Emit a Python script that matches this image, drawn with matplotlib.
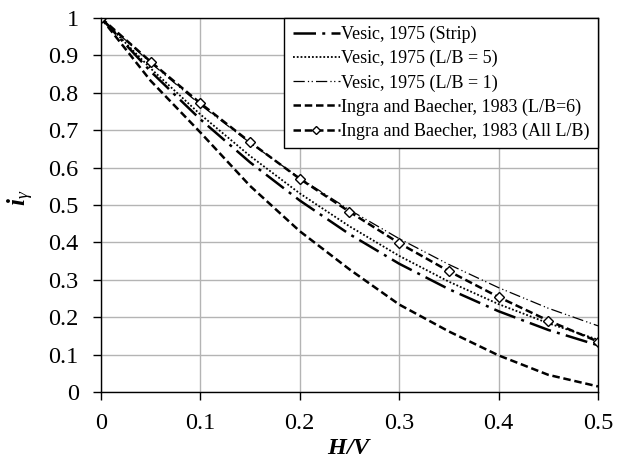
import numpy as np
import matplotlib.pyplot as plt

plt.rcParams['font.family'] = ['Liberation Serif', 'DejaVu Serif']
plt.rcParams['mathtext.fontset'] = 'custom'
plt.rcParams['mathtext.rm'] = 'Liberation Serif'
plt.rcParams['mathtext.it'] = 'Liberation Serif:italic'
plt.rcParams['mathtext.bf'] = 'Liberation Serif:bold'
plt.rcParams['mathtext.bfit'] = 'Liberation Serif:bold:italic'

# H/V values
hv = [0.0, 0.05, 0.1, 0.15, 0.2, 0.25, 0.3, 0.35, 0.4, 0.45, 0.5]

# inclination factor i_gamma
vesic_strip = [1.0, 0.857, 0.729, 0.614, 0.512, 0.422, 0.343, 0.275, 0.216, 0.166, 0.125]
vesic_lb5 = [1.0, 0.865, 0.742, 0.631, 0.531, 0.443, 0.364, 0.295, 0.235, 0.184, 0.140]
vesic_lb1 = [1.0, 0.880, 0.768, 0.666, 0.572, 0.487, 0.410, 0.341, 0.279, 0.224, 0.177]
ingra_lb6 = [1.0, 0.832, 0.694, 0.551, 0.430, 0.328, 0.234, 0.162, 0.098, 0.046, 0.015]
ingra_all = [1.0, 0.883, 0.772, 0.668, 0.570, 0.482, 0.398, 0.323, 0.254, 0.191, 0.135]

fig = plt.figure(figsize=(6.19, 4.58), dpi=100)
ax = fig.add_axes([0.163, 0.144, 0.803, 0.817])

ax.plot(hv, vesic_strip, color='black', lw=1.8, dashes=(9, 2.5, 1.2, 2.5),
        label='Vesic, 1975 (Strip)')
ax.plot(hv, vesic_lb5, color='black', lw=1.3, dashes=(1, 1.1),
        label='Vesic, 1975 (L/B = 5)')
ax.plot(hv, vesic_lb1, color='black', lw=0.9, dashes=(9, 2.5, 1, 2, 1, 2.5),
        label='Vesic, 1975 (L/B = 1)')
ax.plot(hv, ingra_lb6, color='black', lw=1.8, dashes=(3, 1.5),
        label='Ingra and Baecher, 1983 (L/B=6)')
ax.plot(hv, ingra_all, color='black', lw=1.8, dashes=(3, 1.5), marker='D',
        markersize=5, markerfacecolor='white', markeredgecolor='black',
        markeredgewidth=1, label='Ingra and Baecher, 1983 (All L/B)')

ax.set_xlim(0, 0.5)
ax.set_ylim(0, 1)
ax.set_xticks([0, 0.1, 0.2, 0.3, 0.4, 0.5])
ax.set_xticklabels(['0', '0.1', '0.2', '0.3', '0.4', '0.5'])
ax.set_yticks(np.arange(0, 1.01, 0.1))
ax.set_yticklabels(['0', '0.1', '0.2', '0.3', '0.4', '0.5', '0.6', '0.7', '0.8', '0.9', '1'])
ax.grid(True, color='#b4b4b4', lw=1)
ax.set_axisbelow(True)
ax.tick_params(axis='both', direction='out', length=6, width=1, labelsize=17.5)
ax.tick_params(axis='y', pad=10)
ax.tick_params(axis='x', pad=9)
for s in ax.spines.values():
    s.set_linewidth(1)

ax.set_xlabel(r'$\mathbfit{H/V}$', fontsize=17.5)
ax.xaxis.set_label_coords(0.5, -0.122)
ax.set_ylabel(r'$\mathbfit{i}_{\mathit{\gamma}}$', fontsize=18)
ax.yaxis.set_label_coords(-0.13, 0.52)

leg = ax.legend(loc='upper right', bbox_to_anchor=(1, 1), borderaxespad=0,
                fontsize=13, frameon=True, fancybox=False, framealpha=1,
                edgecolor='black', handlelength=2.6, handletextpad=0.1,
                labelspacing=0.38, borderpad=0.45, markerscale=0.8)
leg.get_frame().set_linewidth(1)

fig.savefig('out.png', dpi=100)
